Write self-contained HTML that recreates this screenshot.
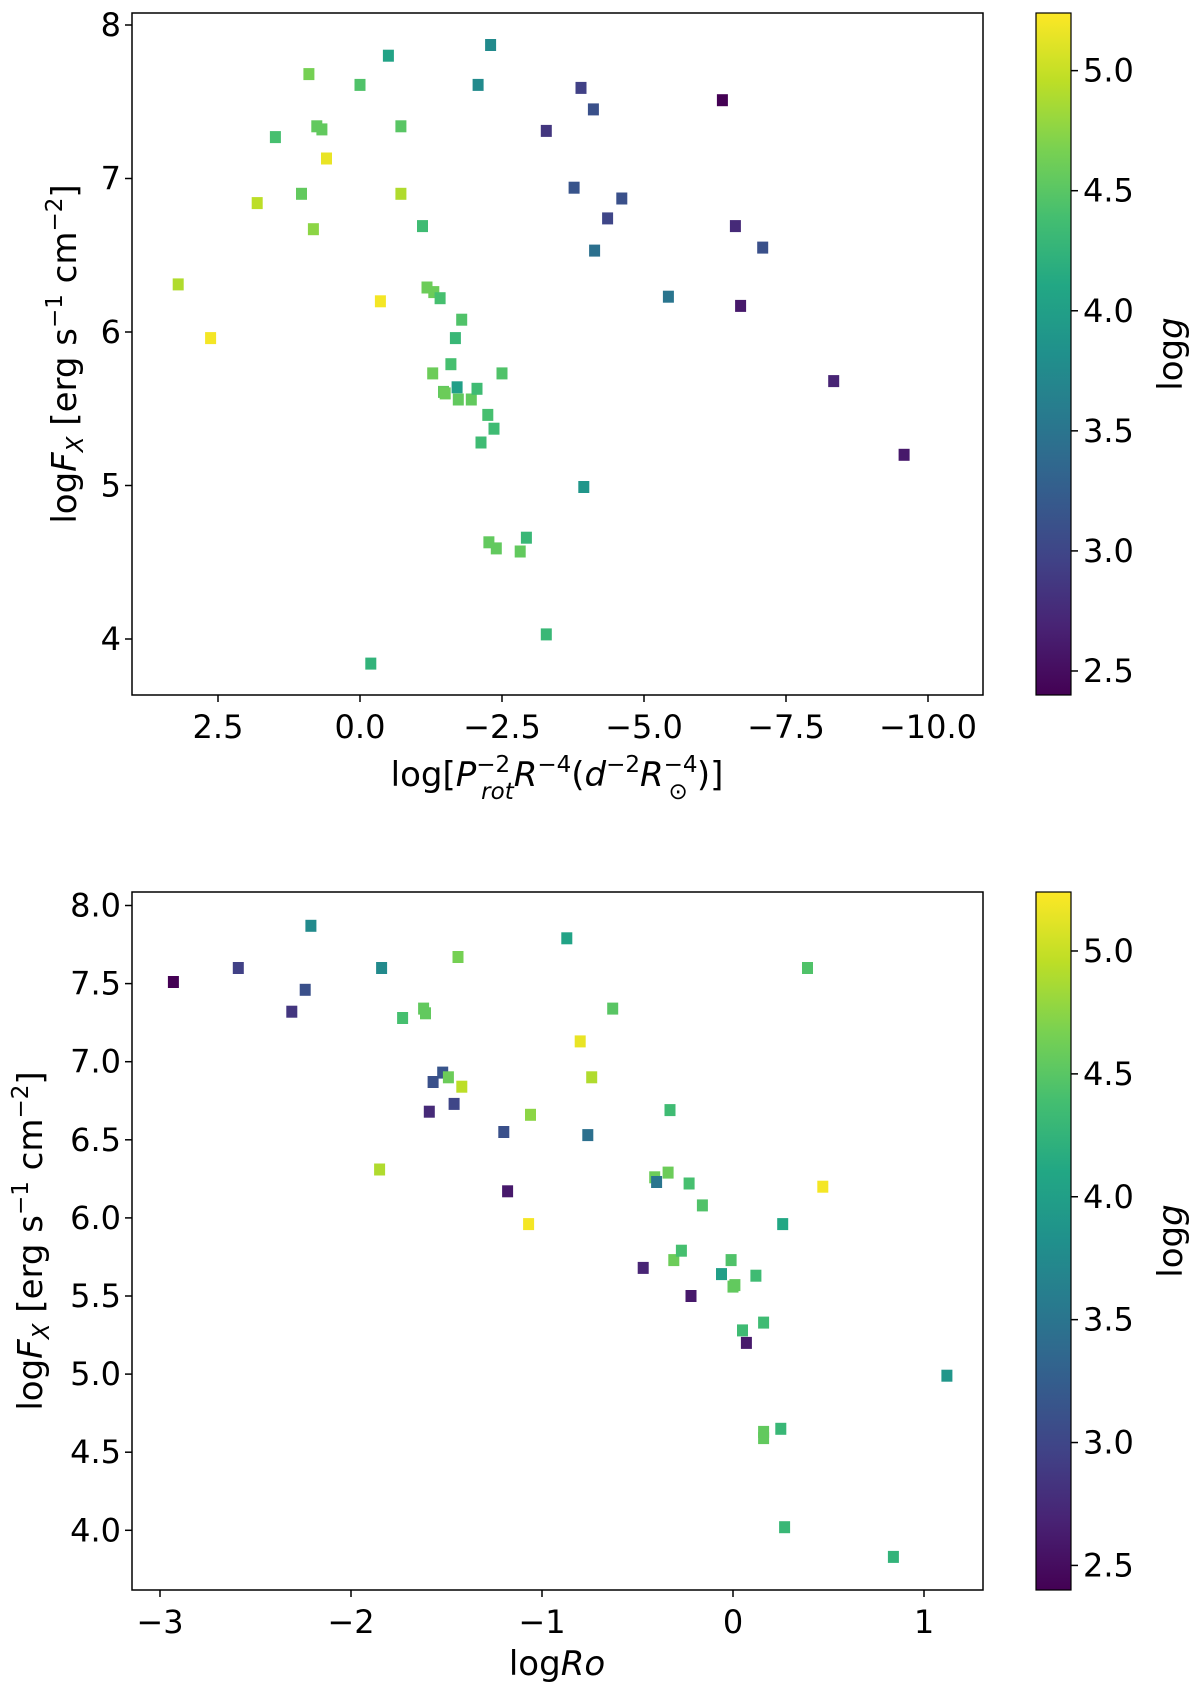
<!DOCTYPE html>
<html><head><meta charset="utf-8">
<style>
html,body{margin:0;padding:0;background:#fff;}
svg{display:block;font-family:"DejaVu Sans","Liberation Sans",sans-serif;}
</style></head>
<body>
<svg id="fig" width="1200" height="1691" viewBox="0 0 1200 1691" xmlns="http://www.w3.org/2000/svg"></svg>
<script>
// ---- Top panel data ----
const topX = [3.2,2.63,1.81,1.49,1.03,0.9,0.82,0.76,0.67,0.59,0.0,-0.19,-0.36,-0.5,-0.72,-0.72,-1.1,-1.18,-1.3,-1.41,-1.28,-1.47,-1.5,-1.6,-1.68,-1.71,-1.73,-1.79,-1.96,-2.06,-2.08,-2.13,-2.25,-2.27,-2.3,-2.36,-2.4,-2.5,-2.82,-2.93,-3.28,-3.28,-3.77,-3.89,-3.94,-4.11,-4.13,-4.36,-4.61,-5.43,-6.38,-6.61,-6.7,-7.09,-8.34,-9.58];
const topY = [6.31,5.96,6.84,7.27,6.9,7.68,6.67,7.34,7.32,7.13,7.61,3.84,6.2,7.8,6.9,7.34,6.69,6.29,6.26,6.22,5.73,5.61,5.6,5.79,5.96,5.64,5.56,6.08,5.56,5.63,7.61,5.28,5.46,4.63,7.87,5.37,4.59,5.73,4.57,4.66,7.31,4.03,6.94,7.59,4.99,7.45,6.53,6.74,6.87,6.23,7.51,6.69,6.17,6.55,5.68,5.2];
const topG = [4.9,5.2,4.95,4.4,4.55,4.65,4.75,4.55,4.55,5.15,4.45,4.25,5.2,4.05,4.9,4.5,4.35,4.6,4.6,4.4,4.6,4.55,4.6,4.4,4.3,4.0,4.55,4.45,4.55,4.35,3.75,4.35,4.4,4.55,3.75,4.35,4.55,4.45,4.55,4.3,2.85,4.3,3.15,2.95,3.9,3.1,3.45,3.0,3.1,3.5,2.4,2.75,2.6,3.1,2.7,2.6];
const topXTicks = [2.5,0.0,-2.5,-5.0,-7.5,-10.0];
const topXTickLabels = ["2.5","0.0","\u22122.5","\u22125.0","\u22127.5","\u221210.0"];
const topYTicks = [4,5,6,7,8];
const topYTickLabels = ["4","5","6","7","8"];
// ---- Bottom panel data ----
const botX = [-2.93,-2.59,-2.31,-2.24,-2.21,-1.84,-1.85,-1.73,-1.62,-1.61,-1.59,-1.57,-1.52,-1.49,-1.46,-1.44,-1.42,-1.2,-1.18,-1.07,-1.06,-0.87,-0.8,-0.76,-0.74,-0.63,-0.47,-0.41,-0.4,-0.34,-0.33,-0.31,-0.27,-0.23,-0.22,-0.16,-0.06,-0.01,0.0,0.01,0.05,0.07,0.12,0.16,0.16,0.16,0.25,0.26,0.27,0.39,0.47,0.84,1.12];
const botY = [7.51,7.6,7.32,7.46,7.87,7.6,6.31,7.28,7.34,7.31,6.68,6.87,6.93,6.9,6.73,7.67,6.84,6.55,6.17,5.96,6.66,7.79,7.13,6.53,6.9,7.34,5.68,6.26,6.23,6.29,6.69,5.73,5.79,6.22,5.5,6.08,5.64,5.73,5.56,5.57,5.28,5.2,5.63,5.33,4.63,4.59,4.65,5.96,4.02,7.6,6.2,3.83,4.99];
const botG = [2.4,2.95,2.85,3.1,3.75,3.75,4.9,4.4,4.55,4.55,2.75,3.1,3.15,4.6,3.0,4.65,4.95,3.1,2.6,5.2,4.75,4.05,5.15,3.45,4.9,4.5,2.7,4.6,3.5,4.6,4.35,4.6,4.4,4.4,2.6,4.45,4.0,4.45,4.55,4.55,4.35,2.6,4.35,4.35,4.55,4.55,4.3,4.1,4.3,4.45,5.2,4.25,3.9];
const botXTicks = [-3,-2,-1,0,1];
const botXTickLabels = ["\u22123","\u22122","\u22121","0","1"];
const botYTicks = [4.0,4.5,5.0,5.5,6.0,6.5,7.0,7.5,8.0];
const botYTickLabels = ["4.0","4.5","5.0","5.5","6.0","6.5","7.0","7.5","8.0"];
const cbTicks = [2.5,3.0,3.5,4.0,4.5,5.0];
const cbTickLabels = ["2.5","3.0","3.5","4.0","4.5","5.0"];
const gMin = 2.4, gMax = 5.24;

const NS = "http://www.w3.org/2000/svg";
const svg = document.getElementById('fig');
function mk(tag, attrs, parent){ const e=document.createElementNS(NS,tag); for(const k in attrs) e.setAttribute(k,attrs[k]); (parent||svg).appendChild(e); return e; }

const VIR = [[68,1,84],[72,35,116],[64,67,135],[52,94,141],[41,120,142],[32,144,140],[34,167,132],[68,190,112],[121,209,81],[189,222,38],[253,231,37]];
function viridis(t){ t=Math.max(0,Math.min(1,t)); const s=t*(VIR.length-1); const i=Math.min(VIR.length-2,Math.floor(s)); const f=s-i; const c=VIR[i].map((v,k)=>Math.round(v+(VIR[i+1][k]-v)*f)); return `rgb(${c[0]},${c[1]},${c[2]})`; }

const defs = mk('defs',{});
const grad = mk('linearGradient',{id:'vir',x1:0,y1:1,x2:0,y2:0},defs);
for(let i=0;i<=20;i++){ mk('stop',{offset:(i/20),'stop-color':viridis(i/20)},grad); }

const TF = 32;
function panel(cfg){
  const g = mk('g',{});
  
  
  const {L,R,T,B} = cfg;
  const xs = v => cfg.x0 + cfg.xk*v;
  const ys = v => cfg.y0 - cfg.yk*(v - cfg.yref);
  const pg = mk('g',{},g);
  
  
  for(let i=0;i<cfg.X.length;i++){
    const r = mk('rect',{x:(xs(cfg.X[i])-5.5).toFixed(1),y:(ys(cfg.Y[i])-6).toFixed(1),width:11,height:12,fill:viridis((cfg.G[i]-gMin)/(gMax-gMin))},pg);
    
    
  }
  const fr = mk('rect',{x:L,y:T,width:R-L,height:B-T,fill:'none',stroke:'#000','stroke-width':1.5},g);
  
  
  cfg.xt.forEach((v,i)=>{
    const x=xs(v);
    mk('line',{x1:x,y1:B,x2:x,y2:B+7,stroke:'#000','stroke-width':1.5},g);
    const t=mk('text',{x:x,y:B+43,'font-size':TF,'text-anchor':'middle'},g); t.textContent=cfg.xtl[i];
    
    
  });
  cfg.yt.forEach((v,i)=>{
    const y=ys(v);
    mk('line',{x1:L-7,y1:y,x2:L,y2:y,stroke:'#000','stroke-width':1.5},g);
    const t=mk('text',{x:L-11,y:y+11,'font-size':TF,'text-anchor':'end'},g); t.textContent=cfg.ytl[i];
    
    
  });
  const cL=1036,cR=1071;
  const cb = mk('rect',{x:cL,y:T,width:cR-cL,height:B-T,fill:'url(#vir)',stroke:'#000','stroke-width':1.2},g);
  
  
  const cy = v => B - (v-gMin)/(gMax-gMin)*(B-T);
  cbTicks.forEach((v,i)=>{
    const y=cy(v);
    mk('line',{x1:cR,y1:y,x2:cR+7,y2:y,stroke:'#000','stroke-width':1.5},g);
    const t=mk('text',{x:cR+12,y:y+11,'font-size':TF},g); t.textContent=cbTickLabels[i];
    
    
  });
  const cl = mk('text',{x:0,y:0,'font-size':34,transform:`translate(1182,${(T+B)/2}) rotate(-90)`,'text-anchor':'middle'},g);
  cl.innerHTML='log<tspan font-style="italic">g</tspan>';
  
  
  return g;
}

panel({name:'top-panel',L:132,R:983,T:13,B:695,x0:360,xk:-56.8,y0:25,yk:153.5,yref:8,X:topX,Y:topY,G:topG,xt:topXTicks,xtl:topXTickLabels,yt:topYTicks,ytl:topYTickLabels});
panel({name:'bottom-panel',L:132,R:983,T:892,B:1590,x0:733,xk:191,y0:905.5,yk:156.2,yref:8,X:botX,Y:botY,G:botG,xt:botXTicks,xtl:botXTickLabels,yt:botYTicks,ytl:botYTickLabels});

let t;
t = mk('text',{x:557,y:786,'font-size':34,'text-anchor':'middle'});
t.innerHTML='log[<tspan font-style="italic">P</tspan><tspan font-size="23" dy="-14">−2</tspan><tspan font-size="23" font-style="italic" dy="27" dx="-29">rot</tspan><tspan font-style="italic" dy="-13">R</tspan><tspan font-size="23" dy="-14">−4</tspan><tspan dy="14">(</tspan><tspan font-style="italic">d</tspan><tspan font-size="23" dy="-14">−2</tspan><tspan font-style="italic" dy="14">R</tspan><tspan font-size="23" dy="-14">−4</tspan><tspan font-size="23" dy="27" dx="-29">⊙</tspan><tspan dy="-13" dx="9">)]</tspan>';



t = mk('text',{x:0,y:0,'font-size':34,'text-anchor':'middle',transform:'translate(76,354) rotate(-90)'});
t.innerHTML='log<tspan font-style="italic">F</tspan><tspan font-size="23" font-style="italic" dy="7">X</tspan><tspan dy="-7"> [erg s</tspan><tspan font-size="23" dy="-14">−1</tspan><tspan dy="14"> cm</tspan><tspan font-size="23" dy="-14">−2</tspan><tspan dy="14">]</tspan>';



t = mk('text',{x:557,y:1675,'font-size':34,'text-anchor':'middle'});
t.innerHTML='log<tspan font-style="italic">Ro</tspan>';



t = mk('text',{x:0,y:0,'font-size':34,'text-anchor':'middle',transform:'translate(42,1241) rotate(-90)'});
t.innerHTML='log<tspan font-style="italic">F</tspan><tspan font-size="23" font-style="italic" dy="7">X</tspan><tspan dy="-7"> [erg s</tspan><tspan font-size="23" dy="-14">−1</tspan><tspan dy="14"> cm</tspan><tspan font-size="23" dy="-14">−2</tspan><tspan dy="14">]</tspan>';


</script>
</body></html>
